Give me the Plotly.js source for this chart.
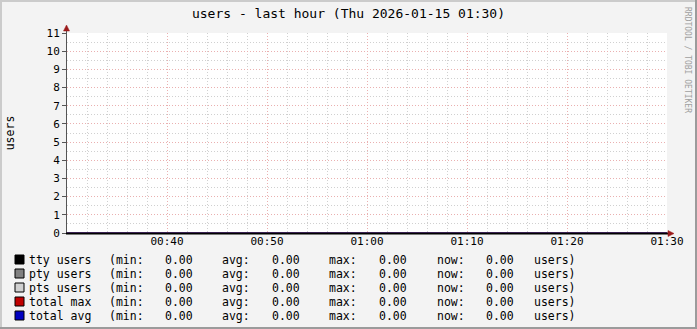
<!DOCTYPE html>
<html>
<head>
<meta charset="utf-8">
<script src="https://cdn.plot.ly/plotly-3.0.1.min.js"></script>
<style>
html,body{margin:0;padding:0;background:#f3f3f3;}
#chart{width:697px;height:329px;}
</style>
</head>
<body>
<div id="chart"></div>
<script>
// ---- data ----
var times = ['2026-01-15 00:30','2026-01-15 00:35','2026-01-15 00:40','2026-01-15 00:45',
             '2026-01-15 00:50','2026-01-15 00:55','2026-01-15 01:00','2026-01-15 01:05',
             '2026-01-15 01:10','2026-01-15 01:15','2026-01-15 01:20','2026-01-15 01:25',
             '2026-01-15 01:30'];
var ttyUsers  = [0,0,0,0,0,0,0,0,0,0,0,0,0];
var ptyUsers  = [0,0,0,0,0,0,0,0,0,0,0,0,0];
var ptsUsers  = [0,0,0,0,0,0,0,0,0,0,0,0,0];
var totalMax  = [0,0,0,0,0,0,0,0,0,0,0,0,0];
var totalAvg  = [0,0,0,0,0,0,0,0,0,0,0,0,0];
var seriesNames  = ['tty users','pty users','pts users','total max','total avg'];
var seriesColors = ['#000000','#808080','#d0d0d0','#c00000','#0000c0'];
var xTickVals = ['2026-01-15 00:40','2026-01-15 00:50','2026-01-15 01:00',
                 '2026-01-15 01:10','2026-01-15 01:20','2026-01-15 01:30'];
var xRange = ['2026-01-15 00:30','2026-01-15 01:30'];
var yRange = [0, 11];
var titleText = 'users - last hour (Thu 2026-01-15 01:30)';
var yTitle = 'users';
var unitText = 'users)';
var watermark = 'RRDTOOL / TOBI OETIKER';

var seriesData = [ttyUsers, ptyUsers, ptsUsers, totalMax, totalAvg];

// ---- geometry helpers (pixel -> paper) ----
var W = 697, H = 329, L = 67, R = 30, T = 33, B = 96;
var PW = W - L - R, PH = H - T - B;
function px(x){ return (x - L) / PW; }
function py(y){ return (H - B - y) / PH; }

var MONO = 'DejaVu Sans Mono, monospace';

// line series first, stacked areas last (areas at zero sit on the axis)
var order = [3, 4, 0, 1, 2];
var traces = order.map(function(i){
  var vals = seriesData[i];
  var isArea = i < 3;
  return {
    type: 'scatter', mode: 'lines', x: times, y: vals, name: seriesNames[i],
    line: {color: seriesColors[i], width: isArea ? 0 : 1},
    fill: isArea ? (i === 0 ? 'tozeroy' : 'tonexty') : 'none',
    fillcolor: seriesColors[i],
    stackgroup: isArea ? 'users' : undefined,
    hoverinfo: 'x+y+name'
  };
});

function stats(v){
  var mn = Math.min.apply(null, v), mx = Math.max.apply(null, v);
  var s = 0; v.forEach(function(a){ s += a; });
  return {min: mn, avg: s / v.length, max: mx, now: v[v.length - 1]};
}

var annotations = [];
var shapes = [];

// outer frame
shapes.push({type:'rect', xref:'paper', yref:'paper', x0:px(0), x1:px(W), y0:py(2), y1:py(0), fillcolor:'#cbcbcb', line:{width:0}, layer:'below'});
shapes.push({type:'rect', xref:'paper', yref:'paper', x0:px(0), x1:px(2), y0:py(H), y1:py(0), fillcolor:'#cbcbcb', line:{width:0}, layer:'below'});
shapes.push({type:'rect', xref:'paper', yref:'paper', x0:px(W-2), x1:px(W), y0:py(H), y1:py(0), fillcolor:'#9b9b9b', line:{width:0}, layer:'below'});
shapes.push({type:'rect', xref:'paper', yref:'paper', x0:px(0), x1:px(W), y0:py(H), y1:py(H-2), fillcolor:'#9b9b9b', line:{width:0}, layer:'below'});

// axes lines and arrows (drawn above traces)
shapes.push({type:'line', xref:'paper', yref:'paper', x0:px(66.5), x1:px(66.5), y0:py(233), y1:py(29), line:{color:'#555555', width:1}});
shapes.push({type:'path', xref:'paper', yref:'paper',
  path: 'M '+px(66.5)+' '+py(25)+' L '+px(63.5)+' '+py(31)+' L '+px(69.5)+' '+py(31)+' Z',
  fillcolor:'#9b1b1b', line:{color:'#9b1b1b', width:0.5}});
shapes.push({type:'line', xref:'paper', yref:'paper', x0:px(66), x1:px(669), y0:py(233.5), y1:py(233.5), line:{color:'#000000', width:2}, layer:'above'});
shapes.push({type:'path', xref:'paper', yref:'paper',
  path: 'M '+px(674)+' '+py(233.5)+' L '+px(668)+' '+py(230.5)+' L '+px(668)+' '+py(236.5)+' Z',
  fillcolor:'#9b1b1b', line:{color:'#9b1b1b', width:0.5}});

// legend rows
var rowY = [259.5, 273.5, 287.5, 301.5, 315.5];
var colX = {label:27, minL:107, minV:162.5, avgL:220, avgV:269.5, maxL:327, maxV:377, nowL:435, nowV:483.5, unit:532};
function addText(txt, x, y){
  annotations.push({xref:'paper', yref:'paper', x:px(x), y:py(y), text:txt,
    xanchor:'left', yanchor:'middle', showarrow:false,
    font:{family:MONO, size:11.5, color:'#000000'}});
}
seriesNames.forEach(function(name, i){
  var y = rowY[i];
  var st = stats(seriesData[i]);
  shapes.push({type:'rect', xref:'paper', yref:'paper', x0:px(15), x1:px(24), y0:py(y+4.5), y1:py(y-4.5),
    fillcolor: seriesColors[i], line:{color:'#000000', width:1}});
  addText(name, colX.label, y);
  addText('(min:', colX.minL, y);
  addText(st.min.toFixed(2), colX.minV, y);
  addText('avg:', colX.avgL, y);
  addText(st.avg.toFixed(2), colX.avgV, y);
  addText('max:', colX.maxL, y);
  addText(st.max.toFixed(2), colX.maxV, y);
  addText('now:', colX.nowL, y);
  addText(st.now.toFixed(2), colX.nowV, y);
  addText(unitText, colX.unit, y);
});

// watermark
annotations.push({xref:'paper', yref:'paper', x:px(688), y:py(5), text:watermark, textangle:90,
  xanchor:'center', yanchor:'top', showarrow:false, font:{family:MONO, size:8, color:'#a0a0a0'}});

var layout = {
  width: W, height: H,
  margin: {l:L, r:R, t:T, b:B, pad:0},
  paper_bgcolor: '#f3f3f3',
  plot_bgcolor: '#ffffff',
  showlegend: false,
  title: {text: titleText, x: 0.5, xref:'container', xanchor:'center', y: 1 - 13/H, yanchor:'middle',
          font:{family:MONO, size:13, color:'#000000'}},
  xaxis: {
    type:'date', range: xRange, tickvals: xTickVals, tickformat:'%H:%M',
    showgrid:true, gridcolor:'#eab0b0', griddash:'1px,2px', gridwidth:1,
    minor:{dtick: 120000, showgrid:true, gridcolor:'#d0d0d0', griddash:'1px,2px', gridwidth:1, ticks:''},
    showline:false, zeroline:false,
    ticks:'', 
    tickfont:{family:MONO, size:11, color:'#000000'},
    fixedrange:true
  },
  yaxis: {
    range: yRange, dtick:1, tick0:0,
    showgrid:true, gridcolor:'#eab0b0', griddash:'1px,2px', gridwidth:1,
    minor:{dtick:0.5, showgrid:true, gridcolor:'#d0d0d0', griddash:'1px,2px', gridwidth:1, ticks:''},
    showline:false, zeroline:false,
    ticks:'outside', ticklen:4, tickcolor:'#555555', tickwidth:1,
    tickfont:{family:MONO, size:11, color:'#000000'},
    title:{text:yTitle, standoff:29, font:{family:MONO, size:11.5, color:'#000000'}},
    fixedrange:true
  },
  shapes: shapes,
  annotations: annotations
};

Plotly.newPlot('chart', traces, layout, {displayModeBar:false, staticPlot:true});
</script>
</body>
</html>
